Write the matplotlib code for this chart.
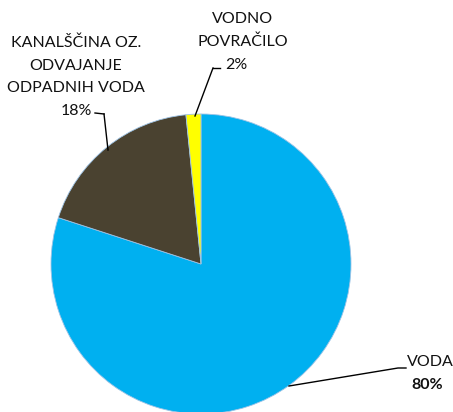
import matplotlib
matplotlib.use("Agg")
import matplotlib.pyplot as plt

categories = ["VODA", "KANALŠČINA OZ.\nODVAJANJE\nODPADNIH VODA", "VODNO\nPOVRAČILO"]
values = [80.0, 18.4, 1.6]
pct_labels = ["80%", "18%", "2%"]
colors = ["#00B0F0", "#4A4230", "#FFFF00"]

W, H = 453, 412
fig = plt.figure(figsize=(W / 100, H / 100), dpi=100)
ax = fig.add_axes([0, 0, 1, 1])

cx, cy, r = 201, 264, 150
wedges, _ = ax.pie(values, colors=colors, startangle=90, counterclock=False,
                   center=(cx, H - cy), radius=r, frame=True,
                   wedgeprops=dict(linewidth=0.6, edgecolor="#9DC3E6"))
ax.set_xlim(0, W)
ax.set_ylim(0, H)
ax.axis("off")

font = "Lato"
fs = 11.5
tc = "#111111"

def t(x, y, s, **kw):
    ax.text(x, H - y, s, ha="center", va="center", fontsize=fs, family=font,
            color=tc, **kw)

# VODNO POVRAČILO
t(243, 19, "VODNO")
t(243, 42, "POVRAČILO")
t(236, 65, pct_labels[2])
ax.plot([213, 220], [H - 68, H - 68], color="black", lw=1)
ax.plot([213, 195], [H - 68, H - 116], color="black", lw=1)

# KANALŠČINA
t(76, 43, "KANALŠČINA OZ.")
t(76, 66, "ODVAJANJE")
t(76, 88, "ODPADNIH VODA")
t(76, 111, pct_labels[1])
ax.plot([95, 104], [H - 113, H - 114], color="black", lw=1)
ax.plot([104, 108], [H - 114, H - 150], color="black", lw=1)

# VODA
ax.text(407, H - 362, "VODA", ha="left", va="center", fontsize=fs, family=font, color=tc)
ax.text(427, H - 385, pct_labels[0], ha="center", va="center", fontsize=fs, family=font,
        color=tc, fontweight="bold")
ax.plot([289, 398, 406], [H - 386, H - 368, H - 368], color="black", lw=1)

fig.savefig("out.png", dpi=100)
